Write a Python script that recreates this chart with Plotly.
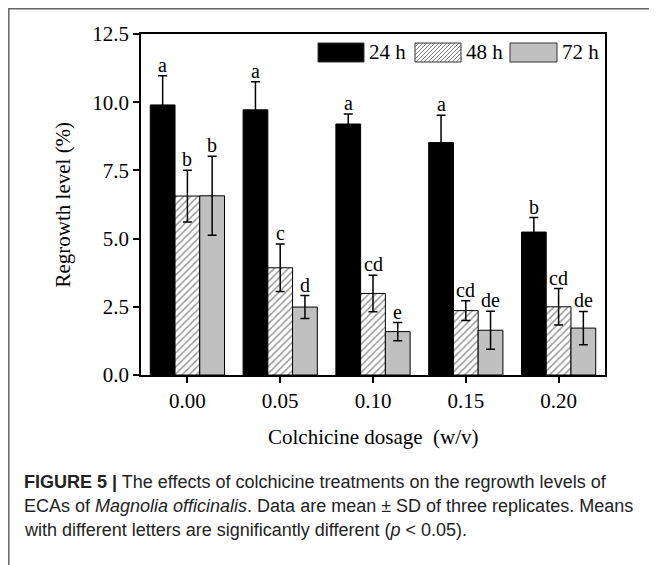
import plotly.graph_objects as go

# ---------------- data ----------------
dosages = ["0.00", "0.05", "0.10", "0.15", "0.20"]
series_names = ["24 h", "48 h", "72 h"]
mean_24h = [9.90, 9.72, 9.20, 8.52, 5.24]
sd_24h = [1.07, 1.03, 0.37, 1.00, 0.53]
mean_48h = [6.56, 3.93, 2.99, 2.36, 2.50]
sd_48h = [0.95, 0.87, 0.67, 0.36, 0.67]
mean_72h = [6.57, 2.49, 1.59, 1.64, 1.72]
sd_72h = [1.45, 0.42, 0.33, 0.70, 0.61]
letters_24h = ["a", "a", "a", "a", "b"]
letters_48h = ["b", "c", "cd", "cd", "cd"]
letters_72h = ["b", "d", "e", "de", "de"]
y_ticks = [0.0, 2.5, 5.0, 7.5, 10.0, 12.5]

SERIF = "Liberation Serif"
SANS = "Liberation Sans"
OFF = 8                      # page body margin added by the html page
W, H = 657 - OFF, 565 - OFF  # figure size so it fits the window
L, R, T, B = 141, 605, 34, 375  # plot area in screen pixels

def px(xp):
    return (xp - L) / (R - L)

def py(yp):
    return (B - yp) / (B - T)

xs = list(range(len(dosages)))
fig = go.Figure()
styles = [
    dict(color="black", pattern=None),
    dict(color="white", pattern=dict(shape="/", fgcolor="#333333", bgcolor="white", size=5, solidity=0.3)),
    dict(color="#c0c0c0", pattern=None),
]
means = [mean_24h, mean_48h, mean_72h]
sds = [sd_24h, sd_48h, sd_72h]
letters = [letters_24h, letters_48h, letters_72h]
for j, name in enumerate(series_names):
    marker = dict(color=styles[j]["color"], line=dict(color="black", width=1))
    if styles[j]["pattern"]:
        marker["pattern"] = styles[j]["pattern"]
    fig.add_trace(go.Bar(
        x=xs, y=means[j], name=name, marker=marker,
        error_y=dict(type="data", array=sds[j], visible=True, color="black", thickness=1.5, width=4.5),
    ))

bar_w = 0.8 / 3
annos = []
for j in range(3):
    for i in xs:
        annos.append(dict(
            x=i + (j - 1) * bar_w, y=means[j][i] + sds[j][i], xref="x", yref="y",
            text=letters[j][i], showarrow=False, yanchor="bottom", xanchor="center",
            yshift=-2, font=dict(family=SERIF, size=20, color="black")))

# axis titles
annos.append(dict(x=0.5, y=py(437), xref="paper", yref="paper", text="Colchicine dosage  (w/v)",
                  showarrow=False, xanchor="center", yanchor="middle",
                  font=dict(family=SERIF, size=21, color="black")))
annos.append(dict(x=px(62), y=0.5, xref="paper", yref="paper", text="Regrowth level (%)",
                  showarrow=False, xanchor="center", yanchor="middle", textangle=-90,
                  font=dict(family=SERIF, size=21, color="black")))

# legend (manual)
shapes = []
leg_boxes = [(318, 364), (415, 461), (510, 557)]
leg_y0, leg_y1 = 43, 62
leg_fill = ["black", "white", "#c0c0c0"]
for k, (a, b) in enumerate(leg_boxes):
    shapes.append(dict(type="rect", xref="paper", yref="paper", x0=px(a), x1=px(b),
                       y0=py(leg_y1), y1=py(leg_y0), fillcolor=leg_fill[k],
                       line=dict(color="#333333", width=1)))
    annos.append(dict(x=px(b + 3), y=py((leg_y0 + leg_y1) / 2), xref="paper", yref="paper",
                      text=series_names[k], showarrow=False, xanchor="left", yanchor="middle",
                      font=dict(family=SERIF, size=21, color="black")))
# hatch lines for 48 h legend swatch
a, b = leg_boxes[1]
hgt = leg_y1 - leg_y0
path = ""
s = a - hgt
while s < b:
    x_start, y_start = s, leg_y1
    x_end, y_end = s + hgt, leg_y0
    if x_start < a:
        y_start = leg_y1 - (a - x_start)
        x_start = a
    if x_end > b:
        y_end = leg_y0 + (x_end - b)
        x_end = b
    if x_end > x_start:
        path += f"M{px(x_start)},{py(y_start)} L{px(x_end)},{py(y_end)} "
    s += 4
shapes.append(dict(type="path", xref="paper", yref="paper", path=path,
                   line=dict(color="#555555", width=0.8)))

# outer figure frame
shapes.append(dict(type="rect", xref="paper", yref="paper", x0=px(OFF + 0.8), x1=px(651),
                   y0=py(640), y1=py(OFF + 0.8), line=dict(color="#666666", width=1.5),
                   fillcolor="rgba(0,0,0,0)", layer="below"))

# caption
cap_font = dict(family=SANS, size=18, color="#222222")
caption = [
    "<b>FIGURE 5 |</b> The effects of colchicine treatments on the regrowth levels of",
    "ECAs of <i>Magnolia officinalis</i>. Data are mean ± SD of three replicates. Means",
    "with different letters are significantly different (<i>p</i> &lt; 0.05).",
]
for k, line in enumerate(caption):
    annos.append(dict(x=px(22), y=py(482 + 24 * k), xref="paper", yref="paper", text=line,
                      showarrow=False, xanchor="left", yanchor="middle", font=cap_font))

fig.update_layout(
    width=W, height=H,
    margin=dict(l=L - OFF, r=W - (R - OFF), t=T - OFF, b=H - (B - OFF), pad=0),
    paper_bgcolor="white", plot_bgcolor="white",
    barmode="group", bargap=0.2, bargroupgap=0,
    showlegend=False,
    annotations=annos, shapes=shapes,
    font=dict(family=SERIF, size=21, color="black"),
)
fig.update_xaxes(range=[-0.5, 4.5], tickvals=xs, ticktext=dosages, showgrid=False, zeroline=False,
                 showline=True, linecolor="black", linewidth=1.5, mirror=True,
                 ticks="outside", ticklen=6, tickwidth=1.5, tickcolor="black",
                 tickfont=dict(family=SERIF, size=21, color="black"))
fig.update_yaxes(range=[0, 12.5], tickvals=y_ticks, tickformat=".1f", showgrid=False, zeroline=False,
                 showline=True, linecolor="black", linewidth=1.5, mirror=True,
                 ticks="outside", ticklen=6, tickwidth=1.5, tickcolor="black",
                 tickfont=dict(family=SERIF, size=21, color="black"))

fig.write_html("out.html")
